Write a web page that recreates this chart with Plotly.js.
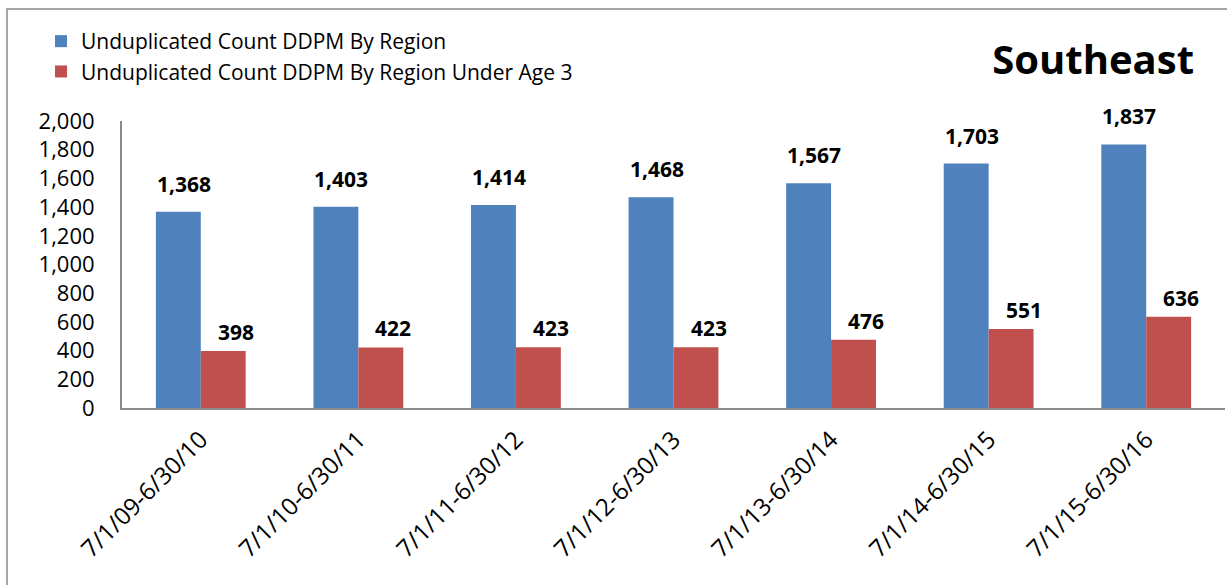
<!DOCTYPE html>
<html>
<head>
<meta charset="utf-8">
<script src="https://cdn.plot.ly/plotly-3.0.1.min.js"></script>
<style>
  html, body { margin: 0; padding: 0; background: #fff; }
  #wrap { position: relative; width: 1227px; height: 585px; overflow: hidden; }
  #chart { width: 1227px; height: 585px; }
  #frame { position: absolute; left: 6px; top: 8px; width: 1300px; height: 700px;
           border-left: 2px solid #a6a6a6; border-top: 2px solid #a6a6a6; pointer-events: none; }
</style>
</head>
<body>
<div id="wrap">
  <div id="chart"></div>
  <div id="frame"></div>
</div>
<script>
const categories = ["7/1/09-6/30/10", "7/1/10-6/30/11", "7/1/11-6/30/12", "7/1/12-6/30/13",
                    "7/1/13-6/30/14", "7/1/14-6/30/15", "7/1/15-6/30/16"];
const totalCounts = [1368, 1403, 1414, 1468, 1567, 1703, 1837];
const under3Counts = [398, 422, 423, 423, 476, 551, 636];
const seriesNames = ["Unduplicated Count DDPM By Region", "Unduplicated Count DDPM By Region Under Age 3"];
const yTicks = [0, 200, 400, 600, 800, 1000, 1200, 1400, 1600, 1800, 2000];

const FONT = "'Open Sans', 'Noto Sans', sans-serif";
const fmt = v => v.toLocaleString("en-US");

const traces = [
  { type: "bar", name: seriesNames[0], x: categories, y: totalCounts,
    marker: { color: "#4F81BD" }, hoverinfo: "skip" },
  { type: "bar", name: seriesNames[1], x: categories, y: under3Counts,
    marker: { color: "#C0504D" }, hoverinfo: "skip" }
];

const annotations = [];
categories.forEach((c, i) => {
  annotations.push({ x: c, y: totalCounts[i], xref: "x", yref: "y", xshift: -17, yshift: 12,
    yanchor: "bottom", showarrow: false, text: "<b>" + fmt(totalCounts[i]) + "</b>",
    font: { family: FONT, size: 21, color: "#000" } });
  annotations.push({ x: c, y: under3Counts[i], xref: "x", yref: "y", xshift: 35, yshift: 3,
    yanchor: "bottom", showarrow: false, text: "<b>" + fmt(under3Counts[i]) + "</b>",
    font: { family: FONT, size: 21, color: "#000" } });
});

const layout = {
  width: 1227, height: 585,
  margin: { l: 122, r: 2, t: 121, b: 177, autoexpand: false },
  paper_bgcolor: "rgba(0,0,0,0)", plot_bgcolor: "rgba(0,0,0,0)",
  font: { family: FONT, size: 21, color: "#000" },
  barmode: "group", bargap: 0.43, bargroupgap: 0,
  showlegend: true,
  legend: { xref: "container", yref: "container", x: 41 / 1227, y: 1 - 21 / 585,
            xanchor: "left", yanchor: "top", orientation: "v",
            font: { family: FONT, size: 21, color: "#000" }, bgcolor: "rgba(0,0,0,0)",
            itemwidth: 30, tracegroupgap: 0 },
  title: { text: "<b>Southeast</b>", xref: "container", yref: "container",
           x: 1194 / 1227, xanchor: "right", y: 1 - 60 / 585, yanchor: "middle",
           font: { family: FONT, size: 40, color: "#000" } },
  xaxis: { type: "category", showline: true, linecolor: "#8c8c8c", linewidth: 2,
           ticks: "", tickangle: -45, showgrid: false, zeroline: false, automargin: false,
           ticklabelstandoff: 6,
           tickfont: { family: FONT, size: 24, color: "#000" }, fixedrange: true },
  yaxis: { range: [0, 2000], tickvals: yTicks, ticktext: yTicks.map(fmt), automargin: false,
           showline: true, linecolor: "#8c8c8c", linewidth: 2, ticks: "",
           showgrid: false, zeroline: false, ticklabelstandoff: 21,
           tickfont: { family: FONT, size: 22, color: "#000" }, fixedrange: true },
  annotations: annotations
};

Plotly.newPlot("chart", traces, layout, { displayModeBar: false, staticPlot: true });
</script>
</body>
</html>
